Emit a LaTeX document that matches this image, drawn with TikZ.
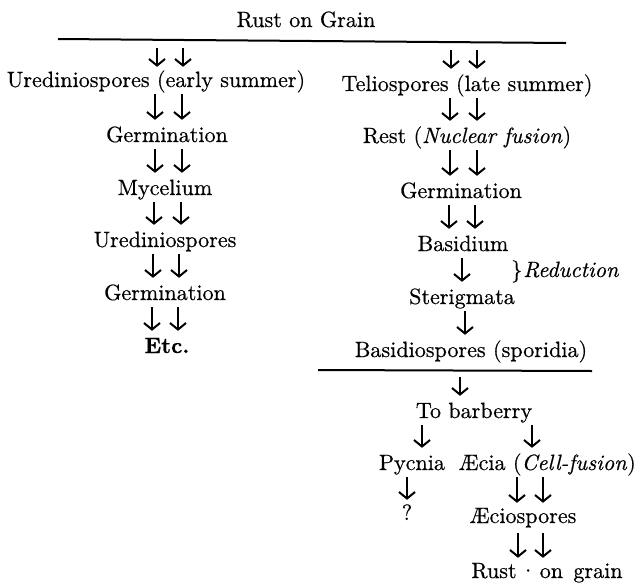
\documentclass[tikz,border=0pt]{standalone}
\usepackage{fontspec}
\setmainfont{lmroman10-regular.otf}[BoldFont=lmroman10-bold.otf,ItalicFont=lmroman10-italic.otf,FakeBold=0.5]
\usetikzlibrary{arrows.meta}
\begin{document}
\begin{tikzpicture}[x=1pt,y=-1pt,
  lbl/.style={anchor=base,inner sep=0pt,text height=16pt,text depth=5pt,font=\fontsize{22.1}{27}\selectfont},
  arr/.style={line width=2pt,-{Straight Barb[length=6.5pt,width=16pt]},shorten <=2pt,shorten >=6pt},
  rulestyle/.style={line width=2pt}]
\useasboundingbox (0,0) rectangle (638,582);
% title and top rule
\node[lbl] (rog) at (306,27) {Rust on Grain};
\coordinate (tl) at (58,39);
\coordinate (tr) at (566,43);
\draw[rulestyle] (tl) -- (tr);
% left column
\node[lbl] (u1) at (156,87) {Urediniospores (early summer)};
\node[lbl] (g1) at (167,142) {Germination};
\node[lbl] (my) at (165,195) {Mycelium};
\node[lbl] (u2) at (165,247) {Urediniospores};
\node[lbl] (g2) at (165,300) {Germination};
\node[lbl] (etc) at (167,353) {\textbf{Etc.}};
% right column
\node[lbl] (te) at (467,91) {Teliospores (late summer)};
\node[lbl] (re) at (467,143) {Rest (\textit{Nuclear fusion})};
\node[lbl] (g3) at (461,198) {Germination};
\node[lbl] (ba) at (463,251) {Basidium};
\node[lbl,anchor=base west] (red) at (511,277) {\}\kern1pt\textit{Reduction}};
\node[lbl] (st) at (462,304) {Sterigmata};
\node[lbl] (bs) at (471,357) {Basidiospores (sporidia)};
\coordinate (bl) at (318,370);
\coordinate (br) at (592,371);
\draw[rulestyle] (bl) -- (br);
\node[lbl] (tb) at (474,418) {To barberry};
\node[lbl] (py) at (412,470) {Pycnia};
\node[lbl,anchor=base east] (ae) at (636,470) {Æcia (\textit{Cell-fusion})};
\node[lbl] (q) at (407,520) {?};
\node[lbl] (as) at (523,523) {Æciospores};
\node[lbl] (rg) at (547,578) {Rust\kern3pt·\kern3pt on\kern3pt\ grain};
% left arrows
\foreach \x in {157,183} \draw[arr,shorten <=9pt,shorten >=4pt] (tl -| \x,0) -- (u1.north -| \x,0);
\foreach \x in {155,182} \draw[arr] (u1.south -| \x,0) -- (g1.north -| \x,0);
\foreach \x in {155,182} \draw[arr] (g1.south -| \x,0) -- (my.north -| \x,0);
\foreach \x in {154,181} \draw[arr] (my.south -| \x,0) -- (u2.north -| \x,0);
\foreach \x in {153,179} \draw[arr] (u2.south -| \x,0) -- (g2.north -| \x,0);
\foreach \x in {152,178} \draw[arr] (g2.south -| \x,0) -- (etc.north -| \x,0);
% right arrows
\foreach \x in {451,477} \draw[arr,shorten <=7pt] (tr -| \x,0) -- (te.north -| \x,0);
\foreach \x in {450,477} \draw[arr] (te.south -| \x,0) -- (re.north -| \x,0);
\foreach \x in {450,477} \draw[arr] (re.south -| \x,0) -- (g3.north -| \x,0);
\foreach \x in {449,475} \draw[arr] (g3.south -| \x,0) -- (ba.north -| \x,0);
\draw[arr] (ba.south -| 462,0) -- (st.north -| 462,0);
\draw[arr] (st.south -| 465,0) -- (bs.north -| 465,0);
\draw[arr,shorten <=7pt] (bl -| 460,0) -- (tb.north -| 460,0);
\draw[arr] (tb.south -| 422,0) -- (py.north -| 422,0);
\draw[arr] (tb.south -| 532,0) -- (ae.north -| 532,0);
\draw[arr,shorten >=4pt] (py.south -| 407,0) -- (q.north -| 407,0);
\foreach \x in {517,543} \draw[arr,shorten >=4pt] (ae.south -| \x,0) -- (as.north -| \x,0);
\foreach \x in {518,543} \draw[arr,shorten <=5pt,shorten >=4pt] (as.south -| \x,0) -- (rg.north -| \x,0);
\end{tikzpicture}
\end{document}
